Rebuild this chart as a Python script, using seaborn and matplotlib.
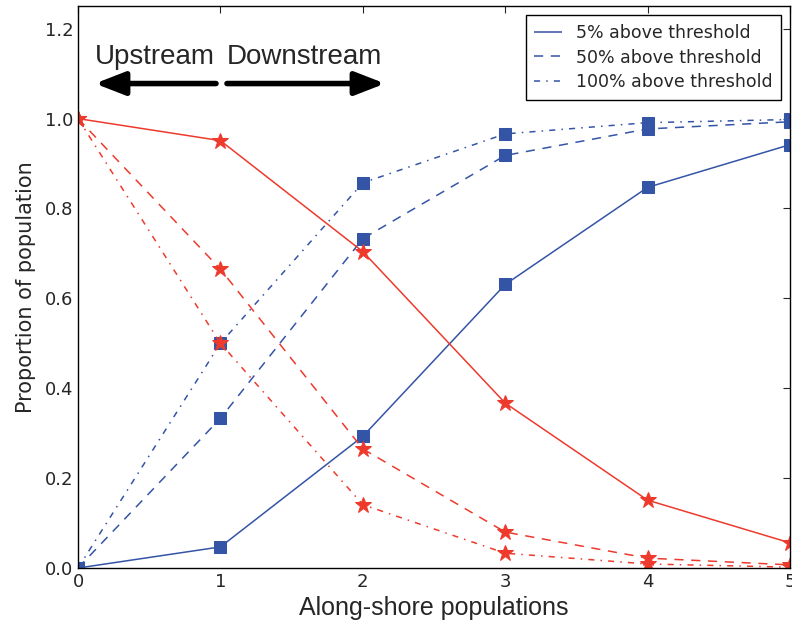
import matplotlib
matplotlib.use("Agg")
import matplotlib.pyplot as plt
from matplotlib.lines import Line2D
import seaborn as sns
import pandas as pd

# ---- data ----
x_pos = [0, 1, 2, 3, 4, 5]
thresholds = ["5% above threshold", "50% above threshold", "100% above threshold"]
blue_5 = [0.0, 0.047, 0.293, 0.631, 0.847, 0.942]
blue_50 = [0.0, 0.333, 0.733, 0.918, 0.977, 0.993]
blue_100 = [0.0, 0.500, 0.857, 0.966, 0.991, 0.998]
red_5 = [1.0, 0.951, 0.704, 0.367, 0.151, 0.056]
red_50 = [1.0, 0.665, 0.265, 0.080, 0.022, 0.007]
red_100 = [1.0, 0.500, 0.141, 0.033, 0.009, 0.002]
y_ticks = [0.0, 0.2, 0.4, 0.6, 0.8, 1.0, 1.2]
x_ticks = [0, 1, 2, 3, 4, 5]

sns.set_style("white")
plt.rcParams.update({
    "font.family": ["DejaVu Sans"],
    "xtick.direction": "in", "ytick.direction": "in",
    "xtick.top": True, "ytick.right": True,
    "xtick.major.size": 5, "ytick.major.size": 5,
    "xtick.major.width": 0.8, "ytick.major.width": 0.8,
    "axes.edgecolor": "black", "axes.linewidth": 1.0,
})

BLUE = "#3454a6"
RED = "#ee3a2c"
styles = [(0, ()), (0, (6, 5)), (0, (4, 4, 1, 4))]

fig = plt.figure(figsize=(7.92, 6.24), dpi=100)
ax = fig.add_axes([0.0985, 0.0897, 0.8990, 0.9003])

blue_series = [blue_5, blue_50, blue_100]
red_series = [red_5, red_50, red_100]
for name, vals, ls in zip(thresholds, blue_series, styles):
    df = pd.DataFrame({"x": x_pos, "y": vals})
    sns.lineplot(data=df, x="x", y="y", ax=ax, color=BLUE, linewidth=1.1,
                 linestyle=ls, marker="s", markersize=8, markeredgecolor=BLUE,
                 legend=False)
for name, vals, ls in zip(thresholds, red_series, styles):
    df = pd.DataFrame({"x": x_pos, "y": vals})
    sns.lineplot(data=df, x="x", y="y", ax=ax, color=RED, linewidth=1.1,
                 linestyle=ls, marker="*", markersize=12, markeredgecolor=RED,
                 legend=False)

ax.set_xlim(0, 5)
ax.set_ylim(0, 1.25)
ax.set_xticks(x_ticks)
ax.set_yticks(y_ticks)
ax.set_xticklabels([str(v) for v in x_ticks], fontsize=13)
ax.set_yticklabels([f"{v:.1f}" for v in y_ticks], fontsize=13)
ax.set_xlabel("Along-shore populations", fontsize=18, family=["Liberation Sans"], labelpad=4)
ax.set_ylabel("Proportion of population", fontsize=15, labelpad=6)

handles = [Line2D([0], [0], color=BLUE, linewidth=1.1, linestyle=ls) for ls in styles]
leg = ax.legend(handles, thresholds, loc="upper right", fontsize=12.5,
                handlelength=1.6, borderaxespad=0.5, fancybox=False,
                framealpha=1, edgecolor="black", borderpad=0.5, labelspacing=0.4)
leg.get_frame().set_linewidth(1.0)

# Direction annotations
arrow_y = 1.078
ax.annotate("", xy=(0.119, arrow_y), xytext=(0.969, arrow_y),
            arrowprops=dict(arrowstyle="-|>,head_length=0.9,head_width=0.35",
                            lw=4, color="black", mutation_scale=20, shrinkA=0, shrinkB=0))
ax.annotate("", xy=(2.156, arrow_y), xytext=(1.046, arrow_y),
            arrowprops=dict(arrowstyle="-|>,head_length=0.9,head_width=0.35",
                            lw=4, color="black", mutation_scale=20, shrinkA=0, shrinkB=0))
ax.text(0.119, 1.136, "Upstream", fontsize=20, family=["Liberation Sans"], ha="left", va="center")
ax.text(1.046, 1.136, "Downstream", fontsize=20, family=["Liberation Sans"], ha="left", va="center")

fig.savefig("out.png", dpi=100)
